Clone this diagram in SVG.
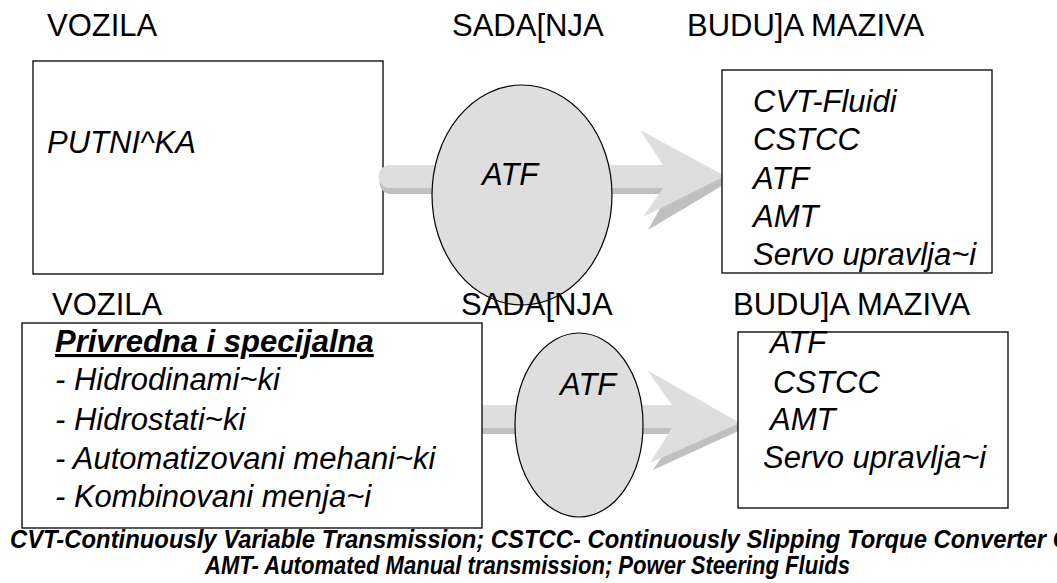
<svg xmlns="http://www.w3.org/2000/svg" width="1057" height="583" viewBox="0 0 1057 583">
<style>
.lbl{font-family:"Liberation Sans",Arial,sans-serif;font-size:31px;fill:#000}
.it{font-family:"Liberation Sans",Arial,sans-serif;font-size:31px;font-style:italic;fill:#000}
.foot{font-family:"Liberation Sans",Arial,sans-serif;font-size:25px;font-style:italic;font-weight:bold;fill:#000}
.box{fill:#fff;stroke:#000;stroke-width:1.3}
.ell{fill:#dedede;stroke:#000;stroke-width:1.2}
.arL{fill:#dedede}
.arD{fill:#c0c0c0}
</style>
<rect width="1057" height="583" fill="#fff"/>

<!-- top row -->
<g id="top-vozila-box">
  <rect class="box" x="33" y="61" width="350" height="213"/>
  <text class="it" x="47" y="153">PUTNI^KA</text>
</g>
<g id="connectors">
  <g id="top-arrow">
    <path class="arD" d="M391,171 H668 L645,136 L730,181 L648,230 L668,194 H391 A11.5,11.5 0 0 1 391,171 Z"/>
    <path class="arL" d="M390,165 H663 L640,130 L725,176 L643,217 L663,188 H390 A11.5,11.5 0 0 1 390,165 Z"/>
  </g>
  <g id="bottom-arrow">
    <path class="arD" d="M482,411 H677 L652,376 L745,428 L653,470 L677,434 H482 Z"/>
    <path class="arL" d="M482,405 H672 L647,370 L740,423 L650,463 L672,428 H482 Z"/>
  </g>
</g>
<g id="top-sadasnja">
  <ellipse class="ell" cx="522" cy="195" rx="90" ry="110"/>
  <text class="it" x="482" y="185">ATF</text>
</g>
<g id="top-buduca-box">
  <rect class="box" x="722" y="70" width="270" height="203"/>
  <text class="it" x="753" y="112">CVT-Fluidi</text>
  <text class="it" x="753" y="150">CSTCC</text>
  <text class="it" x="753" y="189">ATF</text>
  <text class="it" x="753" y="227">AMT</text>
  <text class="it" x="753" y="265">Servo upravlja~i</text>
</g>
<g id="top-labels">
  <text class="lbl" x="47" y="36">VOZILA</text>
  <text class="lbl" x="452" y="36">SADA[NJA</text>
  <text class="lbl" x="687" y="36">BUDU]A MAZIVA</text>
</g>

<!-- bottom row -->
<g id="bottom-vozila-box">
  <rect class="box" x="22" y="323" width="460" height="205"/>
  <text class="it" x="55" y="352" font-weight="bold" text-decoration="underline">Privredna i specijalna</text>
  <text class="it" x="55" y="390">- Hidrodinami~ki</text>
  <text class="it" x="55" y="430">- Hidrostati~ki</text>
  <text class="it" x="55" y="469">- Automatizovani mehani~ki</text>
  <text class="it" x="55" y="507">- Kombinovani menja~i</text>
</g>
<g id="bottom-sadasnja">
  <ellipse class="ell" cx="579" cy="425" rx="64" ry="92"/>
  <text class="it" x="560" y="395">ATF</text>
</g>
<g id="bottom-buduca-box">
  <rect class="box" x="738" y="332" width="270" height="176"/>
  <text class="it" x="770" y="353">ATF</text>
  <text class="it" x="773" y="393">CSTCC</text>
  <text class="it" x="770" y="430">AMT</text>
  <text class="it" x="763" y="468">Servo upravlja~i</text>
</g>
<g id="bottom-labels">
  <text class="lbl" x="52" y="315">VOZILA</text>
  <text class="lbl" x="461" y="315">SADA[NJA</text>
  <text class="lbl" x="733" y="315">BUDU]A MAZIVA</text>
</g>

<g id="footer">
  <text class="foot" x="10" y="548" textLength="1060" lengthAdjust="spacingAndGlyphs">CVT-Continuously Variable Transmission; CSTCC- Continuously Slipping Torque Converter C</text>
  <text class="foot" x="205" y="574" textLength="645" lengthAdjust="spacingAndGlyphs">AMT- Automated Manual transmission; Power Steering Fluids</text>
</g>
</svg>
